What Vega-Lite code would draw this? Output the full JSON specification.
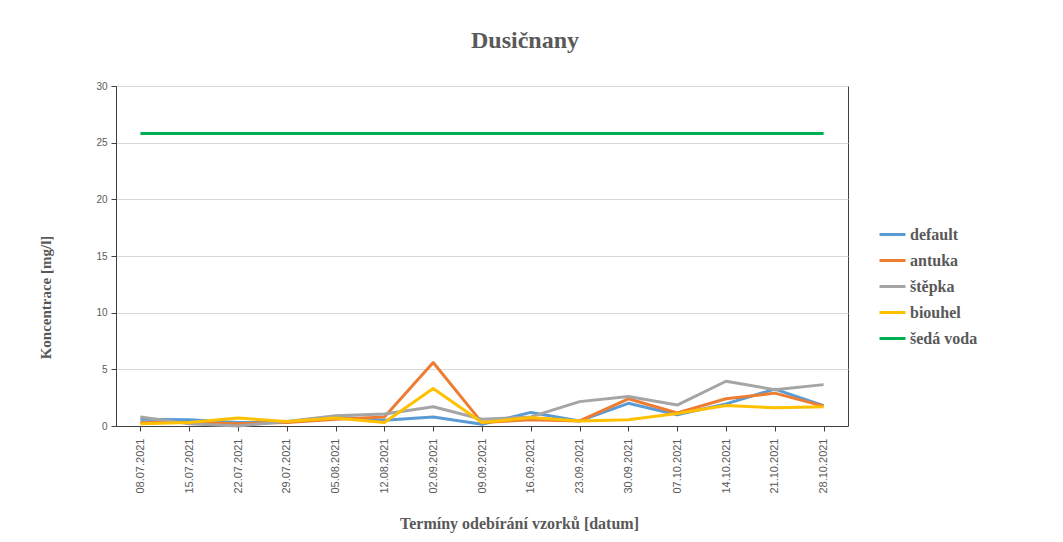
{
  "$schema": "https://vega.github.io/schema/vega-lite/v6.json",
  "width": 732,
  "height": 340,
  "autosize": {"type": "none"},
  "padding": {"left": 116, "top": 86, "right": 215, "bottom": 116},
  "background": "white",
  "title": {
    "text": "Dusičnany",
    "font": "Liberation Serif",
    "fontSize": 24,
    "fontWeight": "bold",
    "color": "#595959",
    "anchor": "middle",
    "dx": 43,
    "offset": 28
  },
  "config": {
    "view": {"stroke": "#404040", "strokeWidth": 1}
  },
  "data": {
    "values": [
      {"date": "08.07.2021", "series": "default", "value": 0.6},
      {"date": "15.07.2021", "series": "default", "value": 0.55},
      {"date": "22.07.2021", "series": "default", "value": 0.3},
      {"date": "29.07.2021", "series": "default", "value": 0.35},
      {"date": "05.08.2021", "series": "default", "value": 0.8},
      {"date": "12.08.2021", "series": "default", "value": 0.5},
      {"date": "02.09.2021", "series": "default", "value": 0.8},
      {"date": "09.09.2021", "series": "default", "value": 0.15},
      {"date": "16.09.2021", "series": "default", "value": 1.2},
      {"date": "23.09.2021", "series": "default", "value": 0.45},
      {"date": "30.09.2021", "series": "default", "value": 2.0},
      {"date": "07.10.2021", "series": "default", "value": 1.0},
      {"date": "14.10.2021", "series": "default", "value": 1.95},
      {"date": "21.10.2021", "series": "default", "value": 3.25},
      {"date": "28.10.2021", "series": "default", "value": 1.8},

      {"date": "08.07.2021", "series": "antuka", "value": 0.3},
      {"date": "15.07.2021", "series": "antuka", "value": 0.3},
      {"date": "22.07.2021", "series": "antuka", "value": 0.2},
      {"date": "29.07.2021", "series": "antuka", "value": 0.3},
      {"date": "05.08.2021", "series": "antuka", "value": 0.6},
      {"date": "12.08.2021", "series": "antuka", "value": 0.8},
      {"date": "02.09.2021", "series": "antuka", "value": 5.6},
      {"date": "09.09.2021", "series": "antuka", "value": 0.3},
      {"date": "16.09.2021", "series": "antuka", "value": 0.55},
      {"date": "23.09.2021", "series": "antuka", "value": 0.45},
      {"date": "30.09.2021", "series": "antuka", "value": 2.4},
      {"date": "07.10.2021", "series": "antuka", "value": 1.15},
      {"date": "14.10.2021", "series": "antuka", "value": 2.4},
      {"date": "21.10.2021", "series": "antuka", "value": 2.9},
      {"date": "28.10.2021", "series": "antuka", "value": 1.75},

      {"date": "08.07.2021", "series": "štěpka", "value": 0.8},
      {"date": "15.07.2021", "series": "štěpka", "value": 0.2},
      {"date": "22.07.2021", "series": "štěpka", "value": 0.0},
      {"date": "29.07.2021", "series": "štěpka", "value": 0.4},
      {"date": "05.08.2021", "series": "štěpka", "value": 0.9},
      {"date": "12.08.2021", "series": "štěpka", "value": 1.05},
      {"date": "02.09.2021", "series": "štěpka", "value": 1.7},
      {"date": "09.09.2021", "series": "štěpka", "value": 0.6},
      {"date": "16.09.2021", "series": "štěpka", "value": 0.8},
      {"date": "23.09.2021", "series": "štěpka", "value": 2.15},
      {"date": "30.09.2021", "series": "štěpka", "value": 2.6},
      {"date": "07.10.2021", "series": "štěpka", "value": 1.85},
      {"date": "14.10.2021", "series": "štěpka", "value": 3.95},
      {"date": "21.10.2021", "series": "štěpka", "value": 3.2},
      {"date": "28.10.2021", "series": "štěpka", "value": 3.65},

      {"date": "08.07.2021", "series": "biouhel", "value": 0.2},
      {"date": "15.07.2021", "series": "biouhel", "value": 0.3},
      {"date": "22.07.2021", "series": "biouhel", "value": 0.7},
      {"date": "29.07.2021", "series": "biouhel", "value": 0.4},
      {"date": "05.08.2021", "series": "biouhel", "value": 0.7},
      {"date": "12.08.2021", "series": "biouhel", "value": 0.3},
      {"date": "02.09.2021", "series": "biouhel", "value": 3.3},
      {"date": "09.09.2021", "series": "biouhel", "value": 0.3},
      {"date": "16.09.2021", "series": "biouhel", "value": 0.75},
      {"date": "23.09.2021", "series": "biouhel", "value": 0.45},
      {"date": "30.09.2021", "series": "biouhel", "value": 0.55},
      {"date": "07.10.2021", "series": "biouhel", "value": 1.1},
      {"date": "14.10.2021", "series": "biouhel", "value": 1.8},
      {"date": "21.10.2021", "series": "biouhel", "value": 1.6},
      {"date": "28.10.2021", "series": "biouhel", "value": 1.7},

      {"date": "08.07.2021", "series": "šedá voda", "value": 25.8},
      {"date": "15.07.2021", "series": "šedá voda", "value": 25.8},
      {"date": "22.07.2021", "series": "šedá voda", "value": 25.8},
      {"date": "29.07.2021", "series": "šedá voda", "value": 25.8},
      {"date": "05.08.2021", "series": "šedá voda", "value": 25.8},
      {"date": "12.08.2021", "series": "šedá voda", "value": 25.8},
      {"date": "02.09.2021", "series": "šedá voda", "value": 25.8},
      {"date": "09.09.2021", "series": "šedá voda", "value": 25.8},
      {"date": "16.09.2021", "series": "šedá voda", "value": 25.8},
      {"date": "23.09.2021", "series": "šedá voda", "value": 25.8},
      {"date": "30.09.2021", "series": "šedá voda", "value": 25.8},
      {"date": "07.10.2021", "series": "šedá voda", "value": 25.8},
      {"date": "14.10.2021", "series": "šedá voda", "value": 25.8},
      {"date": "21.10.2021", "series": "šedá voda", "value": 25.8},
      {"date": "28.10.2021", "series": "šedá voda", "value": 25.8}
    ]
  },
  "mark": {"type": "line", "strokeWidth": 3, "strokeJoin": "round"},
  "encoding": {
    "x": {
      "field": "date",
      "type": "ordinal",
      "sort": null,
      "scale": {"type": "point", "padding": 0.5},
      "axis": {
        "title": "Termíny odebírání vzorků [datum]",
        "titleFont": "Liberation Serif",
        "titleFontSize": 16,
        "titleFontWeight": "bold",
        "titleColor": "#595959",
        "titlePadding": 22,
        "titleX": 403,
        "labelAngle": -90,
        "labelFont": "Liberation Sans",
        "labelFontSize": 11,
        "labelColor": "#595959",
        "labelPadding": 7,
        "domainColor": "#404040",
        "tickColor": "#404040",
        "tickSize": 5,
        "grid": false
      }
    },
    "y": {
      "field": "value",
      "type": "quantitative",
      "scale": {"domain": [0, 30]},
      "axis": {
        "title": "Koncentrace [mg/l]",
        "titleFont": "Liberation Serif",
        "titleFontSize": 15,
        "titleFontWeight": "bold",
        "titleColor": "#595959",
        "titlePadding": 42,
        "titleY": 211,
        "values": [0, 5, 10, 15, 20, 25, 30],
        "labelFont": "Liberation Sans",
        "labelFontSize": 10,
        "labelColor": "#595959",
        "labelPadding": 4,
        "domainColor": "#404040",
        "tickColor": "#404040",
        "tickSize": 5,
        "gridColor": "#D9D9D9"
      }
    },
    "color": {
      "field": "series",
      "type": "nominal",
      "sort": null,
      "scale": {
        "domain": ["default", "antuka", "štěpka", "biouhel", "šedá voda"],
        "range": ["#5B9BD5", "#ED7D31", "#A5A5A5", "#FFC000", "#00B050"]
      },
      "legend": {
        "title": null,
        "orient": "none",
        "legendX": 762,
        "legendY": 134,
        "symbolType": "stroke",
        "symbolSize": 676,
        "symbolStrokeWidth": 3,
        "labelFont": "Liberation Serif",
        "labelFontSize": 16,
        "labelFontWeight": "bold",
        "labelColor": "#595959",
        "labelOffset": 3,
        "rowPadding": 3
      }
    }
  }
}
